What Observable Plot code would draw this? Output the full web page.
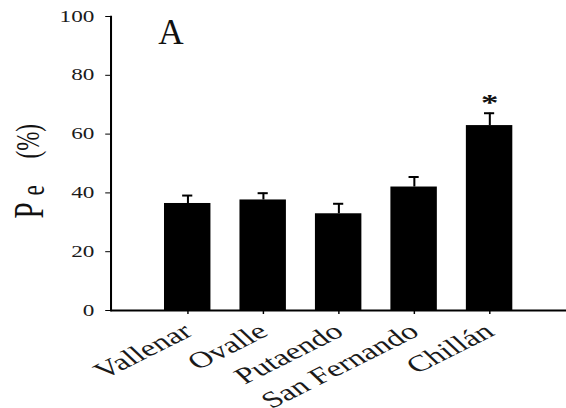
<!DOCTYPE html>
<html><head><meta charset="utf-8">
<script src="https://cdn.jsdelivr.net/npm/d3@7"></script>
<script src="https://cdn.jsdelivr.net/npm/@observablehq/plot@0.6"></script>
<style>
body{margin:0;background:#fff;}
#chart{width:566px;height:408px;overflow:hidden;}
#chart svg{transform:scaleX(1.4513);transform-origin:0 0;display:block;}
</style></head><body><div id="chart"></div>
<script>
const sites = ["Vallenar", "Ovalle", "Putaendo", "San Fernando", "Chillán"];
const means = [36.4, 37.6, 32.9, 42.0, 62.9];
const errors = [2.7, 2.3, 3.4, 3.4, 4.2];
const signif = ["", "", "", "", "*"];
const yTicks = [0, 20, 40, 60, 80, 100];
const panelLabel = "A";
const yLabelMain = "P";
const yLabelSub = "e";
const yLabelUnit = "(%)";

const data = sites.map((s, i) => ({site: s, mean: means[i], top: means[i] + errors[i], sig: signif[i]}));
const serif = "'Liberation Serif', 'Times New Roman', serif";

const chart = Plot.plot({
  width: 390, height: 408,
  marginLeft: 76, marginRight: 0, marginTop: 16, marginBottom: 98,
  style: {fontFamily: serif, background: "#fff", color: "#1a1a1a"},
  x: {domain: sites, paddingInner: 0.386, paddingOuter: 0.67, axis: null},
  y: {domain: [0, 100], axis: null},
  marks: [
    Plot.barY(data, {x: "site", y: "mean", fill: "#000"}),
    Plot.ruleX(data, {x: "site", y1: "mean", y2: "top", stroke: "#000", strokeWidth: 1.4}),
    Plot.tickY(data, {x: "site", y: "top", stroke: "#000", strokeWidth: 2, insetLeft: 12.5, insetRight: 12.5}),
    Plot.text(data.filter(d => d.sig), {x: "site", y: "top", text: "sig", dy: -11, fontSize: 24, fontWeight: "bold", fill: "#111"}),
    Plot.axisY({ticks: yTicks, label: null, tickSize: 3.5, tickPadding: 8, fontSize: 16, stroke: "#000"}),
    Plot.axisX({label: null, tickSize: 4, tickPadding: 14, tickRotate: -36, fontSize: 23, stroke: "#000"}),
    Plot.frame({anchor: "left", stroke: "#000", strokeWidth: 1.4}),
    Plot.ruleY([0], {stroke: "#000", strokeWidth: 1.8}),
    Plot.text([panelLabel], {frameAnchor: "top-left", dx: 32.5, dy: 27, lineAnchor: "bottom", fontSize: 35, fill: "#111"}),
    Plot.text([yLabelMain], {frameAnchor: "left", textAnchor: "start", rotate: -90, dx: -56, dy: 55, fontSize: 29, fill: "#111"}),
    Plot.text([yLabelSub], {frameAnchor: "left", textAnchor: "start", rotate: -90, dx: -53.5, dy: 32, fontSize: 23, fill: "#111"}),
    Plot.text([yLabelUnit], {frameAnchor: "left", textAnchor: "start", rotate: -90, dx: -57, dy: -5, fontSize: 23, fill: "#111"})
  ]
});
document.getElementById("chart").appendChild(chart);

d3.select(chart).selectAll("text").each(function() {
  if (this.textContent === panelLabel) {
    d3.select(this).attr("textLength", 17.5).attr("lengthAdjust", "spacingAndGlyphs");
  }
});
</script>
</body></html>
